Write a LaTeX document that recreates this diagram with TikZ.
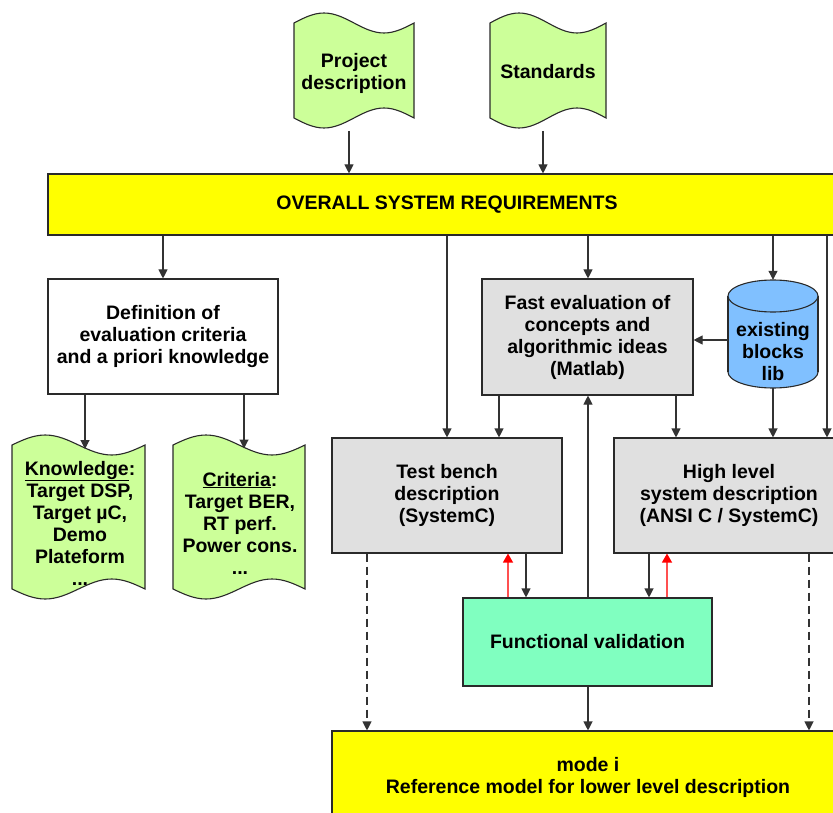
\documentclass[tikz,border=0pt]{standalone}
\usepackage{fontspec}
\setmainfont{Liberation Sans}
\usetikzlibrary{arrows.meta}

\definecolor{docgreen}{HTML}{CCFF99}
\definecolor{reqyellow}{HTML}{FFFF00}
\definecolor{boxgray}{HTML}{E0E0E0}
\definecolor{libblue}{HTML}{80C0FF}
\definecolor{valgreen}{HTML}{80FFC0}
\definecolor{edgegray}{HTML}{2A2A2A}
\definecolor{linkgray}{HTML}{333333}
\definecolor{feedred}{HTML}{FF5050}

% punched-tape document outline: x-left, x-right, top mid-line, bottom mid-line, wave amplitude
\newcommand\tapeshape[5]{%
  \pgfmathsetmacro\tqa{#1+(#2-#1)/4}%
  \pgfmathsetmacro\tqb{#1+(#2-#1)/2}%
  \pgfmathsetmacro\tqc{#1+3*(#2-#1)/4}%
  \draw[docshape] (#1,#3) sin (\tqa,#3-#5) cos (\tqb,#3) sin (\tqc,#3+#5) cos (#2,#3)
    -- (#2,#4) sin (\tqc,#4-#5) cos (\tqb,#4) sin (\tqa,#4+#5) cos (#1,#4) -- cycle;}

% underlined heading word with a firm, low rule
\newcommand\headword[1]{\underline{#1}}

\tikzset{
  every node/.style={font=\fontsize{19.5}{22}\selectfont\bfseries, align=center, inner sep=0pt},
  block/.style={draw=edgegray, line width=1.1pt},
  docshape/.style={draw=edgegray, line width=1.1pt, fill=docgreen},
  doclabel/.style={},
  arr/.style={draw=linkgray, line width=1.1pt, -{Triangle[length=9pt,width=9pt]}},
  redarr/.style={draw=feedred, line width=1.3pt, -{Triangle[length=9pt,width=10pt,color=red]}},
  dasharr/.style={arr, dash pattern=on 8pt off 5pt},
}

\begin{document}
\begin{tikzpicture}[x=1pt,y=-1pt]
\useasboundingbox (0,0) rectangle (833,813);
\clip (0,0) rectangle (833,813);

% input documents
\tapeshape{294}{414}{23}{118}{10}
\node[doclabel] (proj) at (354,73) {Project\\description};
\tapeshape{490}{606}{23}{118}{10}
\node[doclabel] (std) at (548,72) {Standards};

% requirements bar
\node[block, fill=reqyellow, minimum width=798pt, minimum height=61pt] (req) at (447,204.5)
  {OVERALL SYSTEM REQUIREMENTS};

% criteria definition and its outputs
\node[block, fill=white, minimum width=230pt, minimum height=115pt] (defn) at (163,336.5)
  {Definition of\\evaluation criteria\\and a priori knowledge};
\tapeshape{12}{145}{445}{589}{10}
\node[doclabel] (know) at (80,523)
  {\headword{Knowledge}:\\Target DSP,\\Target µC,\\Demo\\Plateform\\...};
\tapeshape{173}{305}{445}{589}{10}
\node[doclabel] (crit) at (240,523)
  {\headword{Criteria}:\\Target BER,\\RT perf.\\Power cons.\\...};

% fast evaluation and block library
\node[block, fill=boxgray, minimum width=211pt, minimum height=116pt] (fast) at (587.5,337)
  {Fast evaluation of\\concepts and\\algorithmic ideas\\(Matlab)};

\fill[libblue] (773,372) ellipse [x radius=45, y radius=16];
\fill[libblue] (728,296) rectangle (818,372);
\draw[edgegray, line width=1.1pt] (728,296) -- (728,372) (818,296) -- (818,372);
\begin{scope}
  \clip (700,372) rectangle (850,400);
  \draw[edgegray, line width=1.1pt] (773,372) ellipse [x radius=45, y radius=16];
\end{scope}
\draw[edgegray, line width=1.1pt, fill=libblue] (773,296) ellipse [x radius=45, y radius=16];
\node[minimum width=90pt, minimum height=108pt] (cyl) at (773,334) {};
\node (cyllabel) at (773,352) {existing\\blocks\\lib};

% models
\node[block, fill=boxgray, minimum width=230pt, minimum height=115pt] (tb) at (447,495.5)
  {Test bench\\description\\(SystemC)};
\node[block, fill=boxgray, minimum width=230pt, minimum height=115pt] (hl) at (729,495.5)
  {High level\\system description\\(ANSI C / SystemC)};
\node[block, fill=valgreen, minimum width=249pt, minimum height=88pt] (fv) at (587.5,642)
  {Functional validation};
\node[block, fill=reqyellow, minimum width=512pt, minimum height=92pt] (mode) at (588,777)
  {mode i\\Reference model for lower level description};

% connectors
\coordinate (projout) at (349,131);
\coordinate (stdout) at (543,131);
\draw[arr] (projout) -- (projout |- req.north);
\draw[arr] (stdout) -- (stdout |- req.north);

\draw[arr] (req.south -| defn.north) -- (defn.north);
\draw[arr] (req.south -| 447,0) -- (tb.north);
\draw[arr] (req.south -| 588,0) -- (fast.north -| 588,0);
\draw[arr] (req.south -| cyl.north) -- (cyl.north);
\draw[arr] (req.south -| 827,0) -- (hl.north -| 827,0);

\coordinate (knowin) at (85,449);
\coordinate (critin) at (244,448.5);
\draw[arr] (defn.south -| knowin) -- (knowin);
\draw[arr] (defn.south -| critin) -- (critin);

\draw[arr] (cyl.west |- 0,340) -- (fast.east |- 0,340);
\draw[arr] (fast.south -| 499,0) -- (tb.north -| 499,0);
\draw[arr] (fast.south -| 676,0) -- (hl.north -| 676,0);
\draw[arr] (cyl.south) -- (hl.north -| cyl.south);
\draw[arr] (fv.north -| 588,0) -- (fast.south -| 588,0);

\draw[arr] (tb.south -| 526,0) -- (fv.north -| 526,0);
\draw[redarr] (fv.north -| 508,0) -- (tb.south -| 508,0);
\draw[arr] (hl.south -| 649,0) -- (fv.north -| 649,0);
\draw[redarr] (fv.north -| 667,0) -- (hl.south -| 667,0);

\draw[dasharr] (tb.south -| 367,0) -- (mode.north -| 367,0);
\draw[dasharr] (hl.south -| 809,0) -- (mode.north -| 809,0);
\draw[arr] (fv.south -| 588,0) -- (mode.north -| 588,0);
\end{tikzpicture}
\end{document}
